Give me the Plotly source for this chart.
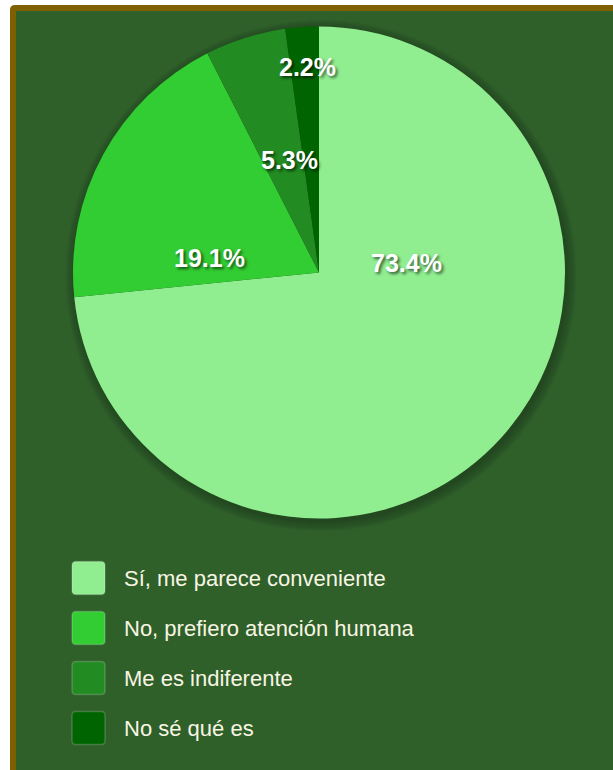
import plotly.graph_objects as go

# Survey answers and their shares (%)
labels = ["Sí, me parece conveniente", "No, prefiero atención humana",
          "Me es indiferente", "No sé qué es"]
values = [73.4, 19.1, 5.3, 2.2]
colors = ["#90ee90", "#32cd32", "#228b22", "#006400"]

W, H = 613, 770
BG = "#30602a"
FRAME = "#7f5f00"

# pie geometry (pixels)
CX, CY, R = 319, 272.5, 246

# percentage label anchor points (pixels), one per slice
label_pos = [(406, 263), (209, 258), (289, 160), (307.5, 67)]


def px(x):
    return x / W


def py(y):
    return 1 - y / H


def rounded_rect(x0, y0, x1, y1, r):
    """SVG path in paper coordinates for a rectangle given in pixels."""
    pts = [
        f"M {px(x0 + r)},{py(y0)}",
        f"L {px(x1 - r)},{py(y0)}",
        f"Q {px(x1)},{py(y0)} {px(x1)},{py(y0 + r)}",
        f"L {px(x1)},{py(y1 - r)}",
        f"Q {px(x1)},{py(y1)} {px(x1 - r)},{py(y1)}",
        f"L {px(x0 + r)},{py(y1)}",
        f"Q {px(x0)},{py(y1)} {px(x0)},{py(y1 - r)}",
        f"L {px(x0)},{py(y0 + r)}",
        f"Q {px(x0)},{py(y0)} {px(x0 + r)},{py(y0)}",
        "Z",
    ]
    return " ".join(pts)


shapes = []
# frame and panel background
shapes.append(dict(type="path", xref="paper", yref="paper", layer="below",
                   path=rounded_rect(10, 5, 640, 800, 5),
                   fillcolor=FRAME, line=dict(width=0)))
shapes.append(dict(type="rect", xref="paper", yref="paper", layer="below",
                   x0=px(16), x1=px(640), y0=py(800), y1=py(11),
                   fillcolor=BG, line=dict(width=0)))
# soft drop shadow behind the pie
for k in range(1, 11):
    rr = R + k
    sx, sy = CX + 2, CY + 3
    shapes.append(dict(type="circle", xref="paper", yref="paper", layer="below",
                       x0=px(sx - rr), x1=px(sx + rr), y0=py(sy + rr), y1=py(sy - rr),
                       fillcolor="rgba(0,0,0,0.025)", line=dict(width=0)))

annotations = []
# legend: swatches and labels
for i, (lab, col) in enumerate(zip(labels, colors)):
    yc = 578 + 50 * i
    shapes.append(dict(type="path", xref="paper", yref="paper",
                       path=rounded_rect(72, yc - 16.5, 105, yc + 16.5, 4),
                       fillcolor=col, line=dict(width=1.5, color="rgba(255,255,255,0.18)")))
    annotations.append(dict(x=px(122), y=py(yc), xref="paper", yref="paper",
                            text=lab, showarrow=False, xanchor="left", yanchor="middle",
                            font=dict(family="Liberation Sans, Arial", size=22,
                                      color="#f7f5e4")))

# percentage labels on the slices
for v, (lx, ly) in zip(values, label_pos):
    annotations.append(dict(x=px(lx), y=py(ly), xref="paper", yref="paper",
                            text=f"<b>{v:.1f}%</b>", showarrow=False,
                            xanchor="center", yanchor="middle",
                            font=dict(family="Liberation Sans, Arial", size=25,
                                      color="#ffffff",
                                      shadow="2px 2px 3px rgba(0,0,0,0.6)")))

fig = go.Figure(go.Pie(
    labels=labels,
    values=values,
    marker=dict(colors=colors, line=dict(width=0)),
    sort=False,
    direction="clockwise",
    rotation=0,
    textinfo="none",
    showlegend=False,
    domain=dict(x=[px(CX - R), px(CX + R)], y=[py(CY + R), py(CY - R)]),
))

fig.update_layout(
    width=W, height=H,
    margin=dict(l=0, r=0, t=0, b=0),
    paper_bgcolor="#ffffff",
    plot_bgcolor="rgba(0,0,0,0)",
    shapes=shapes,
    annotations=annotations,
)

fig.write_html("out.html", config={"displayModeBar": False})
